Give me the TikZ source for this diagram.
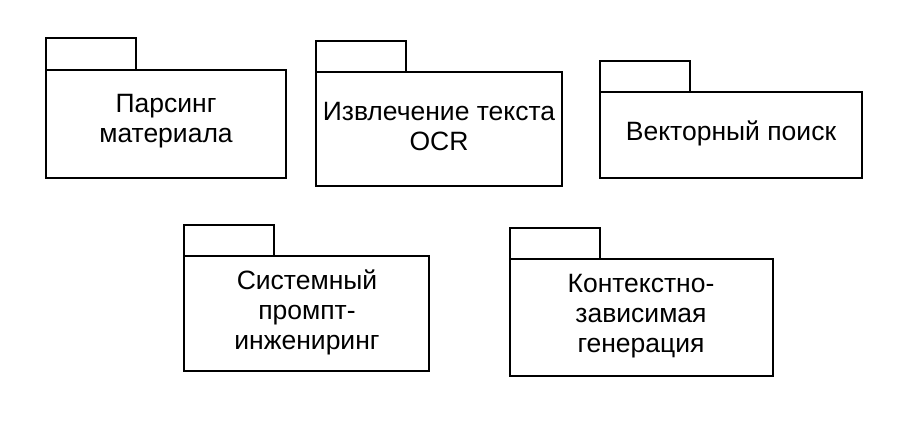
\documentclass[tikz,border=0pt]{standalone}
\usepackage{fontspec}
\setmainfont{Liberation Sans}
\begin{document}
\begin{tikzpicture}[x=1pt,y=-1pt,
  box/.style={draw=black,line width=1.6pt,fill=white},
  lbl/.style={align=center,font=\fontsize{26.5}{30}\selectfont,inner sep=0pt}]
\useasboundingbox (0,0) rectangle (914,426);
\newcommand\pkg[6]{%
  \draw[box] (#1,#2) rectangle (#1+90,#3);
  \draw[box] (#1,#3) rectangle (#4,#5);
  \node[lbl] (#6) at ({(#1+#4)/2},{(#3+#5)/2}) {};}
\pkg{46}{38}{70}{286}{178}{p1}
\node[lbl] at (166,121) {Парсинг\\материала};
\pkg{316}{41}{72}{562}{186}{p2}
\node[lbl] at (439,127) {Извлечение текста\\OCR};
\pkg{600}{61}{92}{862}{178}{p3}
\node[lbl] at (731,133) {Векторный поиск};
\pkg{184}{225}{256}{429}{371}{p4}
\node[lbl] at (307,312) {Системный\\промпт-\\инжениринг};
\pkg{510}{228}{259}{773}{376}{p5}
\node[lbl] at (641,316) {Контекстно-\\зависимая\\генерация};
\end{tikzpicture}
\end{document}
